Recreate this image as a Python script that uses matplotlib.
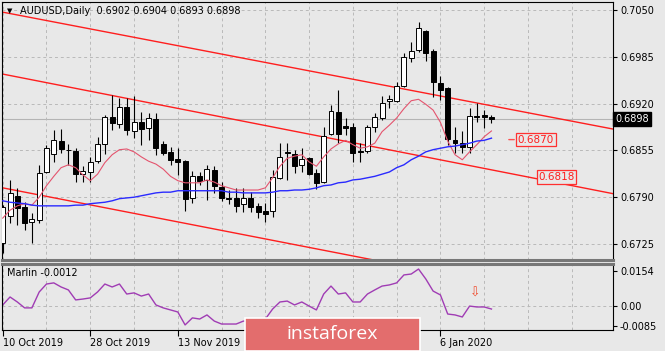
import numpy as np
import matplotlib.pyplot as plt
from matplotlib.patches import Rectangle
from matplotlib.transforms import blended_transform_factory


# AUDUSD daily bars, 10 Oct 2019 .. 15 Jan 2020 (holidays skipped)
opens = [0.6726, 0.6764, 0.6792, 0.6776, 0.6756, 0.6758, 0.6825, 0.6850, 0.6868, 0.6856,
         0.6854, 0.6822, 0.6825, 0.6840, 0.6864, 0.6901, 0.6892, 0.6915, 0.6882, 0.6894,
         0.6886, 0.6899, 0.6864, 0.6853, 0.6843, 0.6840, 0.6789, 0.6819, 0.6814, 0.6828,
         0.6804, 0.6789, 0.6789, 0.6781, 0.6789, 0.6778, 0.6771, 0.6771, 0.6817, 0.6853,
         0.6850, 0.6835, 0.6844, 0.6824, 0.6811, 0.6878, 0.6908, 0.6889, 0.6888, 0.6854,
         0.6854, 0.6888, 0.6900, 0.6924, 0.6924, 0.6944, 0.6983, 0.6994, 0.7021, 0.6993,
         0.6949, 0.6942, 0.6869, 0.6865, 0.6860, 0.6903, 0.6904, 0.6902]
highs = [0.6779, 0.6814, 0.6803, 0.6783, 0.6768, 0.6835, 0.6863, 0.6883, 0.6885, 0.6864,
         0.6858, 0.6833, 0.6846, 0.6874, 0.6904, 0.6932, 0.6928, 0.6928, 0.6931, 0.6908,
         0.6907, 0.6907, 0.6868, 0.6860, 0.6858, 0.6842, 0.6826, 0.6825, 0.6835, 0.6833,
         0.6811, 0.6800, 0.6803, 0.6803, 0.6797, 0.6782, 0.6782, 0.6828, 0.6865, 0.6865,
         0.6856, 0.6858, 0.6846, 0.6829, 0.6888, 0.6918, 0.6939, 0.6900, 0.6893, 0.6865,
         0.6890, 0.6907, 0.6931, 0.6932, 0.6950, 0.6990, 0.7006, 0.7033, 0.7022, 0.6996,
         0.6958, 0.6943, 0.6888, 0.6882, 0.6914, 0.6921, 0.6911, 0.6904]
lows = [0.6713, 0.6754, 0.6751, 0.6744, 0.6726, 0.6754, 0.6824, 0.6839, 0.6851, 0.6835,
        0.6811, 0.6811, 0.6811, 0.6838, 0.6850, 0.6883, 0.6886, 0.6876, 0.6872, 0.6863,
        0.6869, 0.6849, 0.6849, 0.6835, 0.6821, 0.6771, 0.6782, 0.6807, 0.6786, 0.6796,
        0.6785, 0.6781, 0.6769, 0.6769, 0.6769, 0.6761, 0.6756, 0.6763, 0.6815, 0.6814,
        0.6824, 0.6825, 0.6821, 0.6801, 0.6810, 0.6876, 0.6865, 0.6876, 0.6839, 0.6839,
        0.6852, 0.6881, 0.6897, 0.6914, 0.6922, 0.6943, 0.6978, 0.6992, 0.6979, 0.6929,
        0.6925, 0.6863, 0.6851, 0.6851, 0.6851, 0.6894, 0.6886, 0.6893]
closes = [0.6776, 0.6796, 0.6775, 0.6754, 0.6760, 0.6824, 0.6858, 0.6869, 0.6857, 0.6855,
          0.6822, 0.6826, 0.6839, 0.6864, 0.6901, 0.6893, 0.6915, 0.6883, 0.6894, 0.6885,
          0.6900, 0.6858, 0.6851, 0.6842, 0.6839, 0.6788, 0.6819, 0.6813, 0.6829, 0.6806,
          0.6789, 0.6788, 0.6778, 0.6789, 0.6776, 0.6769, 0.6767, 0.6818, 0.6846, 0.6851,
          0.6833, 0.6843, 0.6822, 0.6810, 0.6875, 0.6910, 0.6878, 0.6886, 0.6851, 0.6853,
          0.6888, 0.6901, 0.6921, 0.6926, 0.6944, 0.6985, 0.6993, 0.7025, 0.6990, 0.6950,
          0.6939, 0.6871, 0.6865, 0.6860, 0.6903, 0.6901, 0.6901, 0.6898]

# moving averages as drawn on the chart
ma_fast = [0.6761, 0.6772, 0.6778, 0.6781, 0.6779, 0.6790, 0.6806, 0.6819, 0.6831, 0.6835,
           0.6831, 0.6821, 0.6813, 0.6822, 0.6838, 0.6849, 0.6856, 0.6857, 0.6853, 0.6846,
           0.6840, 0.6836, 0.6829, 0.6819, 0.6813, 0.6810, 0.6810, 0.6810, 0.6814, 0.6811,
           0.6806, 0.6803, 0.6800, 0.6800, 0.6800, 0.6800, 0.6803, 0.6817, 0.6833, 0.6844,
           0.6847, 0.6849, 0.6839, 0.6833, 0.6846, 0.6857, 0.6864, 0.6869, 0.6863, 0.6858,
           0.6860, 0.6865, 0.6881, 0.6890, 0.6900, 0.6913, 0.6924, 0.6926, 0.6919, 0.6911,
           0.6894, 0.6868, 0.6849, 0.6842, 0.6853, 0.6863, 0.6874, 0.6882]
ma_slow = [0.6785, 0.6783, 0.6782, 0.6781, 0.6779, 0.6778, 0.6778, 0.6778, 0.6778, 0.6778,
           0.6779, 0.6779, 0.6781, 0.6782, 0.6783, 0.6785, 0.6788, 0.6789, 0.6790, 0.6792,
           0.6794, 0.6796, 0.6797, 0.6797, 0.6799, 0.6799, 0.6799, 0.6799, 0.6799, 0.6799,
           0.6799, 0.6797, 0.6797, 0.6796, 0.6796, 0.6796, 0.6796, 0.6797, 0.6799, 0.6799,
           0.6800, 0.6800, 0.6801, 0.6803, 0.6806, 0.6807, 0.6810, 0.6811, 0.6814, 0.6815,
           0.6817, 0.6819, 0.6822, 0.6825, 0.6831, 0.6835, 0.6842, 0.6847, 0.6853, 0.6856,
           0.6858, 0.6860, 0.6861, 0.6863, 0.6865, 0.6868, 0.6869, 0.6872]

# Marlin oscillator
marlin = [0.0006, 0.0041, 0.0019, -0.0007, -0.0007, 0.0063, 0.0098, 0.0103, 0.0085, 0.0072,
          0.0028, 0.0032, 0.0037, 0.0063, 0.0098, 0.0085, 0.0098, 0.0054, 0.0059, 0.0045,
          0.0054, 0.0006, -0.0007, -0.0016, -0.0025, -0.0082, -0.0051, -0.0056, -0.0038, -0.0065,
          -0.0078, -0.0078, -0.0078, -0.0065, -0.0069, -0.0069, -0.0056, -0.0012, 0.0019, 0.0023,
          0.0006, 0.0019, 0.0001, -0.0016, 0.0054, 0.0089, 0.0054, 0.0059, 0.0019, 0.0019,
          0.0054, 0.0072, 0.0089, 0.0094, 0.0103, 0.0138, 0.0142, 0.0164, 0.0120, 0.0067,
          0.0050, -0.0034, -0.0038, -0.0047, 0.0001, -0.0003, -0.0003, -0.0012]

date_ticks = [0, 12, 24, 60]
date_labels = ["10 Oct 2019", "28 Oct 2019", "13 Nov 2019", "6 Jan 2020"]
price_ticks = [0.7050, 0.6985, 0.6920, 0.6855, 0.6790, 0.6725]
marlin_ticks = [0.0154, 0.0, -0.0085]
marlin_labels = ["0.0154", "0.00", "-0.0085"]

# channel lines: two anchor points (bar, price) each
channel_upper = [(0, 0.7047), (67, 0.6917)]
channel_mid = [(0, 0.6961), (67, 0.6828)]
channel_low = [(0, 0.6803), (67, 0.6671)]

last_price = 0.6898
level_a = 0.6870
level_b = 0.6818
header = "AUDUSD,Daily  0.6902 0.6904 0.6893 0.6898"

BG = '#e8e8e8'
GRID = '#b9b9b9'

plt.rcParams['font.family'] = ['DejaVu Sans']

fig = plt.figure(figsize=(6.65, 3.51), dpi=100, facecolor=BG)
W, H = 665, 351
ax = fig.add_axes([2 / W, 1 - 260 / H, 611 / W, 258 / H], facecolor=BG)
ax2 = fig.add_axes([2 / W, 1 - 330 / H, 611 / W, 66 / H], facecolor=BG)

x = np.arange(len(closes))
o = np.array(opens)
c = np.array(closes)

# candles
ax.vlines(x, lows, highs, color='black', lw=0.8, zorder=3)
body_col = ['white' if cc >= oo else 'black' for oo, cc in zip(o, c)]
ax.bar(x, np.maximum(np.abs(c - o), 0.00005), bottom=np.minimum(o, c), width=0.68,
       color=body_col, edgecolor='black', linewidth=0.7, zorder=4)

ax.plot(x, ma_fast, color='#e4546e', lw=0.8, zorder=5)
ax.plot(x, ma_slow, color='#2a2aff', lw=1.0, zorder=5)

for line in (channel_upper, channel_mid, channel_low):
    ax.axline(line[0], line[1], color='#ff1e1e', lw=1.0, zorder=2)

ax.axhline(last_price, color='#b4b4b4', lw=0.8, zorder=1)

# level labels
ax.annotate('', xy=(70.5, level_a), xytext=(69.0, level_a),
            arrowprops=dict(arrowstyle='-', color='#ff5050', lw=1.0))
ax.text(70.6, level_a, f"{level_a:.4f}", color='#ff1e1e', fontsize=7.5, va='center', ha='left',
        bbox=dict(boxstyle='square,pad=0.15', fc=BG, ec='#ff3030', lw=0.9), zorder=6)
ax.text(73.4, level_b, f"{level_b:.4f}", color='#ff1e1e', fontsize=7.5, va='center', ha='left',
        bbox=dict(boxstyle='square,pad=0.15', fc=BG, ec='#ff3030', lw=0.9), zorder=6)

xmin, xmax = -0.1, 83.66
for a in (ax, ax2):
    a.set_xlim(xmin, xmax)
    a.yaxis.tick_right()
    a.tick_params(axis='y', length=3, width=0.8, labelsize=7, pad=2, colors='black')
    for s in a.spines.values():
        s.set_color('black')
        s.set_linewidth(0.8)

ax.set_ylim(0.67028, 0.70611)
ax.set_yticks(price_ticks)
ax.set_yticklabels([f"{v:.4f}" for v in price_ticks])
ax.set_xticks(range(0, 84, 6))
ax.tick_params(axis='x', length=0, labelbottom=False)
ax.grid(True, linestyle=(0, (3, 3)), color=GRID, lw=0.7)
ax.spines['bottom'].set_color('#777777')
ax.spines['bottom'].set_linewidth(2.2)

tr = blended_transform_factory(ax.transAxes, ax.transData)
ax.text(1.004, last_price, f"{last_price:.4f}", transform=tr, color='white', fontsize=7,
        va='center', ha='left', bbox=dict(boxstyle='square,pad=0.2', fc='black', ec='black'))

ax.text(0.008, 0.965, '\u25BC', transform=ax.transAxes, fontsize=5, va='center')
ax.text(0.030, 0.965, header, transform=ax.transAxes, fontsize=7, va='center')

# Marlin panel
ax2.plot(x, marlin, color='#a03cb4', lw=1.0)
ax2.set_ylim(-0.01043, 0.01861)
ax2.set_yticks(marlin_ticks)
ax2.set_yticklabels(marlin_labels)
for k in range(0, 84, 6):
    ax2.axvline(k, color=GRID, lw=0.7, linestyle=(0, (3, 3)), zorder=0)
ax2.axhline(0, color=GRID, lw=0.7, linestyle=(0, (3, 3)), zorder=0)
ax2.set_xticks(date_ticks)
ax2.set_xticklabels(date_labels, ha='left')
ax2.tick_params(axis='x', length=4, width=0.8, labelsize=7, pad=2)
ax2.spines['top'].set_color('#777777')
ax2.spines['top'].set_linewidth(2.2)
ax2.text(0.008, 0.86, f"Marlin {marlin[-1]:.4f}", transform=ax2.transAxes, fontsize=7, va='center')
ax2.text(64.7, 0.0056, '\u21E9', color='#f04a2a', fontsize=9, ha='center', va='center')

# watermark
fig.add_artist(Rectangle((245 / W, 0), 175 / W, 33 / H, transform=fig.transFigure,
                         fc='#e36d6d', ec='white', lw=1.2, zorder=10))
fig.text(332 / W, 17 / H, 'instaforex', color='white', fontsize=14, ha='center', va='center',
         family='Open Sans', zorder=11)

fig.savefig('out.png', dpi=100, facecolor=BG)
